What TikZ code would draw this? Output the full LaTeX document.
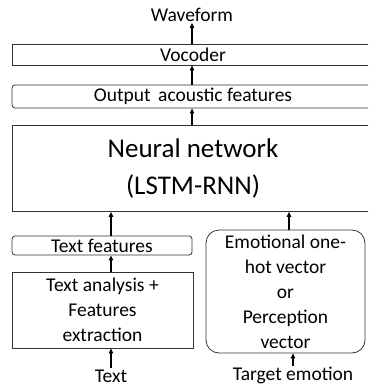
\documentclass[tikz,border=0pt]{standalone}
\usepackage{fontspec}
\setmainfont{Carlito}
\usetikzlibrary{arrows.meta}
\tikzset{
	blk/.style={draw=black!80, line width=0.8pt, inner sep=0pt, align=center},
	rblk/.style={blk, rounded corners=3pt},
	lbl/.style={inner sep=1pt},
	flow/.style={-{Triangle[width=4.5pt,length=5pt]}, line width=1.1pt}
}
\begin{document}
\begin{tikzpicture}[x=1pt, y=1pt, font=\fontsize{19.5}{25}\selectfont]
	\useasboundingbox (0,0) rectangle (368,-387);
	\clip (0,0) rectangle (368,-387);
	% Ausgabe oben
	\node[lbl] (waveform) at (192,-15) {Waveform};
	\node[blk, minimum width=362pt, minimum height=21pt] (vocoder) at (193,-54.5) {Vocoder};
	\node[rblk, minimum width=362pt, minimum height=23pt] (output) at (193,-96.5) {Output\, acoustic features};
	% Netz
	\node[blk, minimum width=362pt, minimum height=86pt,
		font=\fontsize{27}{37}\selectfont] (nn) at (193,-168.5) {\raisebox{-3pt}{Neural network}\\\raisebox{-3pt}{(LSTM-RNN)}};
	% Eingaben unten
	\node[rblk, minimum width=180pt, minimum height=19pt] (textfeat) at (102,-245.5) {Text features};
	\node[blk, minimum width=181pt, minimum height=76pt] (analysis) at (102.5,-310) {Text analysis +\\Features\\extraction};
	\node[blk, rounded corners=13pt, minimum width=159pt, minimum height=123pt] (emotion) at (285.5,-291.5)
		{Emotional one-\\hot vector\\or\\Perception\\vector};
	\node[lbl] (text) at (111,-376) {Text};
	\node[lbl] (target) at (293,-375.5) {Target emotion};
	% Pfeile
	\draw[flow] (text.north) -- (text.north |- analysis.south);
	\draw[flow] ([xshift=8.5pt]analysis.north) -- ([xshift=9pt]textfeat.south);
	\draw[flow] ([xshift=9pt]textfeat.north) -- ([xshift=9pt]textfeat.north |- nn.south);
	\draw[flow] (target.north) -- (target.north |- emotion.south);
	\draw[flow] ([xshift=3.5pt]emotion.north) -- ([xshift=3.5pt]emotion.north |- nn.south);
	\draw[flow] ([xshift=-1pt]nn.north) -- ([xshift=-1pt]output.south);
	\draw[flow] ([xshift=-1pt]output.north) -- ([xshift=-1pt]vocoder.south);
	\draw[flow] ([xshift=-1pt]vocoder.north) -- (waveform.south);
\end{tikzpicture}
\end{document}
